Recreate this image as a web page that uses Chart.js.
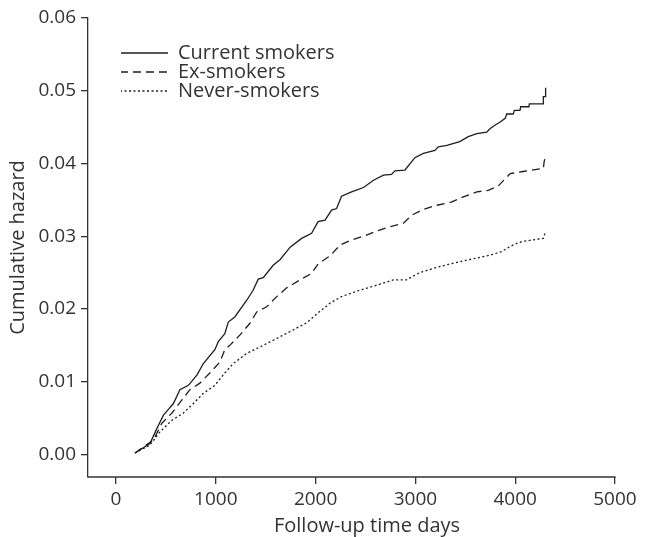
<!DOCTYPE html>
<html>
<head>
<meta charset="utf-8">
<script src="https://cdn.jsdelivr.net/npm/chart.js@4.4.1/dist/chart.umd.min.js"></script>
<style>
html,body{margin:0;padding:0;background:#ffffff;}
#wrap{width:647px;height:537px;}
</style>
</head>
<body>
<div id="wrap"><canvas id="c" width="647" height="537"></canvas></div>
<script>
// ---- Data ----
const seriesNames = ['Current smokers', 'Ex-smokers', 'Never-smokers'];

const currentDays = [190, 340, 390, 435, 475, 525, 575, 640, 725, 810, 875, 990, 1025, 1090, 1125, 1190, 1310, 1375, 1425, 1475, 1575, 1645, 1745, 1860, 1960, 2025, 2095, 2160, 2210, 2260, 2360, 2480, 2580, 2680, 2760, 2795, 2895, 2995, 3080, 3195, 3230, 3315, 3445, 3530, 3615, 3715, 3750, 3800, 3850, 3900, 3915, 3980, 3992, 4048, 4055, 4138, 4142, 4282, 4282, 4305, 4305];
const currentHazard = [0.0002, 0.0015, 0.0030, 0.0043, 0.0054, 0.0062, 0.0070, 0.0089, 0.0095, 0.0109, 0.0125, 0.0144, 0.0155, 0.0166, 0.0182, 0.0189, 0.0212, 0.0226, 0.0241, 0.0243, 0.0260, 0.0268, 0.0285, 0.0297, 0.0304, 0.0320, 0.0322, 0.0336, 0.0338, 0.0355, 0.0361, 0.0367, 0.0377, 0.0384, 0.0385, 0.0390, 0.0391, 0.0408, 0.0414, 0.0418, 0.0423, 0.0425, 0.0430, 0.0437, 0.0441, 0.0443, 0.0448, 0.0453, 0.0457, 0.0462, 0.0468, 0.0468, 0.0473, 0.0473, 0.0478, 0.0478, 0.0482, 0.0482, 0.0492, 0.0492, 0.0504];

const exDays = [190, 375, 460, 560, 660, 740, 840, 940, 1040, 1090, 1140, 1240, 1340, 1410, 1510, 1610, 1710, 1845, 1960, 2025, 2145, 2245, 2345, 2480, 2610, 2745, 2880, 2965, 3065, 3195, 3360, 3480, 3615, 3730, 3830, 3900, 3950, 4080, 4215, 4282, 4290, 4305];
const exHazard = [0.0002, 0.0020, 0.0043, 0.0057, 0.0075, 0.0089, 0.0098, 0.0112, 0.0127, 0.0144, 0.0150, 0.0164, 0.0180, 0.0196, 0.0203, 0.0217, 0.0229, 0.0240, 0.0249, 0.0262, 0.0273, 0.0288, 0.0294, 0.0300, 0.0307, 0.0313, 0.0318, 0.0329, 0.0336, 0.0342, 0.0347, 0.0354, 0.0361, 0.0363, 0.0369, 0.0379, 0.0386, 0.0389, 0.0392, 0.0393, 0.0402, 0.0412];

const neverDays = [190, 340, 440, 560, 675, 775, 875, 990, 1090, 1175, 1310, 1445, 1575, 1745, 1910, 2045, 2145, 2260, 2445, 2645, 2780, 2910, 3045, 3210, 3380, 3580, 3750, 3865, 3950, 4030, 4080, 4282, 4305];
const neverHazard = [0.0002, 0.0013, 0.0031, 0.0047, 0.0057, 0.0070, 0.0084, 0.0095, 0.0112, 0.0125, 0.0139, 0.0148, 0.0157, 0.0169, 0.0181, 0.0197, 0.0208, 0.0217, 0.0226, 0.0234, 0.0240, 0.0240, 0.0250, 0.0257, 0.0263, 0.0269, 0.0274, 0.0279, 0.0286, 0.0291, 0.0293, 0.0297, 0.0307];

const xTickValues = [0, 1000, 2000, 3000, 4000, 5000];
const yTickValues = [0, 0.01, 0.02, 0.03, 0.04, 0.05, 0.06];
const xTitle = 'Follow-up time days';
const yTitle = 'Cumulative hazard';

// ---- Helpers ----
const FONT = "'Open Sans', 'DejaVu Sans', sans-serif";
const TEXT = '#333333';
const LINE = '#1e1e1e';
function toPoints(days, vals) { return days.map((d, i) => ({ x: d, y: vals[i] })); }

// Draw the x axis line only from the left edge to the last tick
const xAxisLine = {
  id: 'xAxisLine',
  beforeDatasetsDraw(chart) {
    const { ctx, chartArea, scales } = chart;
    const xEnd = scales.x.getPixelForValue(xTickValues[xTickValues.length - 1]);
    ctx.save();
    ctx.strokeStyle = TEXT;
    ctx.lineWidth = 1.3;
    ctx.beginPath();
    ctx.moveTo(chartArea.left - 0.65, chartArea.bottom);
    ctx.lineTo(xEnd + 0.65, chartArea.bottom);
    ctx.stroke();
    ctx.restore();
  }
};

// Put the legend inside the plot near the top-left corner
const legendPlacement = {
  id: 'legendPlacement',
  afterLayout(chart) {
    const l = chart.legend;
    const a = chart.chartArea;
    if (!l) return;
    l.left = a.left + 33;
    l.top = a.top + 26;
    l.width = 400;
    l.height = 200;
    l.right = l.left + l.width;
    l.bottom = l.top + l.height;
  }
};

new Chart(document.getElementById('c'), {
  type: 'line',
  data: {
    datasets: [
      { label: seriesNames[0], data: toPoints(currentDays, currentHazard), borderColor: LINE, backgroundColor: LINE, borderWidth: 1.3, borderDash: [], pointRadius: 0, tension: 0, fill: false },
      { label: seriesNames[1], data: toPoints(exDays, exHazard), borderColor: LINE, backgroundColor: LINE, borderWidth: 1.3, borderDash: [8, 5], pointRadius: 0, tension: 0, fill: false },
      { label: seriesNames[2], data: toPoints(neverDays, neverHazard), borderColor: LINE, backgroundColor: LINE, borderWidth: 1.3, borderDash: [2, 2.5], pointRadius: 0, tension: 0, fill: false }
    ]
  },
  options: {
    responsive: false,
    animation: false,
    devicePixelRatio: 1,
    layout: { padding: { left: 0, top: 18, right: 1, bottom: 0 } },
    plugins: {
      tooltip: { enabled: false },
      legend: {
        display: true,
        position: 'chartArea',
        align: 'start',
        labels: {
          usePointStyle: true,
          pointStyle: 'line',
          pointStyleWidth: 48,
          padding: -1,
          color: TEXT,
          font: { family: FONT, size: 20 },
          generateLabels: chart => {
            const items = Chart.defaults.plugins.legend.labels.generateLabels(chart);
            items.forEach(it => {
              const ds = chart.data.datasets[it.datasetIndex];
              it.lineDash = ds.borderDash || [];
              it.lineWidth = ds.borderWidth;
              it.strokeStyle = ds.borderColor;
              it.pointStyle = 'line';
            });
            return items;
          }
        }
      }
    },
    scales: {
      x: {
        type: 'linear',
        min: -281,
        max: 5311,
        afterBuildTicks: s => { s.ticks = xTickValues.map(v => ({ value: v })); },
        afterFit: s => { s.height = 60; },
        ticks: { color: TEXT, font: { family: FONT, size: 19 }, padding: 4, maxRotation: 0, autoSkip: false, callback: v => String(v) },
        grid: { display: true, drawOnChartArea: false, drawTicks: true, tickLength: 7, color: TEXT, lineWidth: 1.3 },
        border: { display: false },
        title: { display: true, text: xTitle, color: TEXT, font: { family: FONT, size: 20 }, padding: { top: 0, bottom: -1 } }
      },
      y: {
        type: 'linear',
        min: -0.0031,
        max: 0.06,
        afterBuildTicks: s => { s.ticks = yTickValues.map(v => ({ value: v })); },
        afterFit: s => { s.width = 88; },
        ticks: { color: TEXT, font: { family: FONT, size: 19 }, padding: 5, autoSkip: false, callback: v => Number(v).toFixed(2) },
        grid: { display: true, drawOnChartArea: false, drawTicks: true, tickLength: 7, color: TEXT, lineWidth: 1.3 },
        border: { display: true, color: TEXT, width: 1.3 },
        title: { display: true, text: yTitle, color: TEXT, font: { family: FONT, size: 20 }, padding: { top: 6, bottom: 0 } }
      }
    }
  },
  plugins: [xAxisLine, legendPlacement]
});
</script>
</body>
</html>
